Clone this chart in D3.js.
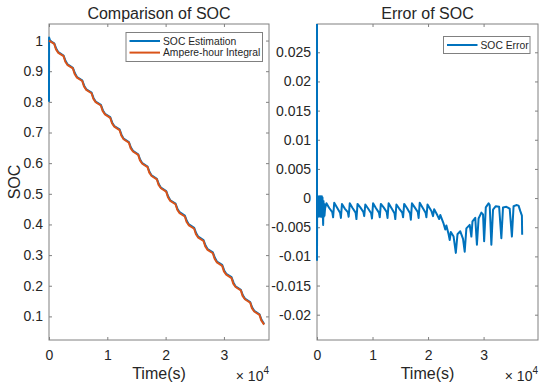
<!DOCTYPE html>
<html>
<head>
<meta charset="utf-8">
<script src="https://cdn.jsdelivr.net/npm/d3@7"></script>
<style>
  body { margin: 0; background: #fff; }
  text { font-family: Arial, "Liberation Sans", sans-serif; fill: #262626; }
</style>
</head>
<body>
<div id="chart"></div>
<script>
// ---- data (t in seconds) ----
var ahIntegral = [
  [0,1.000],[900,0.989],[1200,0.971],[1600,0.960],[2500,0.949],[2800,0.931],
  [3200,0.920],[4100,0.909],[4400,0.891],[4800,0.879],[5700,0.868],[6000,0.850],
  [6400,0.839],[7300,0.828],[7600,0.810],[8000,0.799],[8900,0.788],[9200,0.770],
  [9600,0.759],[10500,0.748],[10800,0.730],[11200,0.719],[12100,0.708],[12400,0.690],
  [12800,0.678],[13700,0.667],[14000,0.649],[14400,0.638],[15300,0.627],[15600,0.609],
  [16000,0.598],[16900,0.587],[17200,0.569],[17600,0.558],[18500,0.547],[18800,0.529],
  [19200,0.518],[20100,0.507],[20400,0.489],[20800,0.477],[21700,0.466],[22000,0.448],
  [22400,0.437],[23300,0.426],[23600,0.408],[24000,0.397],[24900,0.386],[25200,0.368],
  [25600,0.357],[26500,0.346],[26800,0.328],[27200,0.317],[28100,0.306],[28400,0.288],
  [28800,0.276],[29700,0.265],[30000,0.247],[30400,0.236],[31300,0.225],[31600,0.207],
  [32000,0.196],[32900,0.185],[33200,0.167],[33600,0.156],[34500,0.145],[34800,0.127],
  [35200,0.116],[36100,0.105],[36400,0.087],[36900,0.073]
];

var socEstimation = [
  [0,0.800],[15,1.010],[200,0.999],[900,0.991],[1250,0.973],[1600,0.962],[2500,0.951],[2850,0.933],
  [3200,0.922],[4100,0.911],[4450,0.893],[4800,0.881],[5700,0.870],[6050,0.852],
  [6400,0.841],[7300,0.830],[7650,0.812],[8000,0.801],[8900,0.790],[9250,0.772],
  [9600,0.761],[10500,0.750],[10850,0.732],[11200,0.721],[12100,0.710],[12450,0.692],
  [12800,0.680],[13700,0.669],[14050,0.651],[14400,0.640],[15300,0.629],[15650,0.611],
  [16000,0.600],[16900,0.589],[17250,0.571],[17600,0.560],[18500,0.549],[18850,0.531],
  [19200,0.520],[20100,0.509],[20450,0.491],[20800,0.479],[21700,0.468],[22050,0.450],
  [22400,0.440],[23300,0.429],[23650,0.411],[24000,0.400],[24900,0.389],[25250,0.371],
  [25600,0.360],[26500,0.349],[26850,0.331],[27200,0.320],[28100,0.309],[28450,0.291],
  [28800,0.279],[29700,0.268],[30050,0.250],[30400,0.239],[31300,0.228],[31650,0.210],
  [32000,0.198],[32900,0.187],[33250,0.169],[33600,0.158],[34500,0.147],[34850,0.129],
  [35200,0.118],[36100,0.107],[36450,0.089],[36900,0.075]
];

var socError = [
  [0,0.031],[0,-0.0106],[30,0.0003],[90,-0.0030],[150,0.0003],[210,-0.0032],[270,0.0002],
  [330,-0.0031],[390,0.0003],[450,-0.0030],[510,0.0002],[570,-0.0032],[630,0.0003],
  [690,-0.0031],[750,0.0002],[810,-0.0030],[870,0.0003],[930,-0.0033],[990,0.0001],
  [1050,-0.0030],[1110,-0.0046],[1170,-0.0005],[1230,-0.0032],[1290,-0.0010],[1350,-0.0030],
  [1450,-0.0018],
  [1700,-0.0009],[2200,-0.0017],[2750,-0.0024],[2900,-0.0033],
  [3100,-0.0008],[3600,-0.0016],[4150,-0.0025],[4300,-0.0034],
  [4500,-0.0010],[5000,-0.0018],[5550,-0.0024],[5700,-0.0032],
  [5900,-0.0009],[6400,-0.0017],[6950,-0.0025],[7100,-0.0036],
  [7300,-0.0010],[7800,-0.0016],[8350,-0.0024],[8500,-0.0031],
  [8700,-0.0011],[9200,-0.0018],[9750,-0.0026],[9900,-0.0035],
  [10100,-0.0009],[10600,-0.0017],[11150,-0.0025],[11300,-0.0033],
  [11500,-0.0010],[12000,-0.0016],[12550,-0.0024],[12700,-0.0034],
  [12900,-0.0009],[13400,-0.0017],[13950,-0.0026],[14100,-0.0036],
  [14300,-0.0011],[14800,-0.0018],[15350,-0.0025],[15500,-0.0033],
  [15700,-0.0010],[16200,-0.0017],[16750,-0.0026],[16900,-0.0037],
  [17100,-0.0009],[17600,-0.0016],[18150,-0.0024],[18300,-0.0034],
  [18500,-0.0008],[19000,-0.0016],[19550,-0.0025],[19700,-0.0033],
  [19900,-0.0011],[20600,-0.0022],[20900,-0.0031],[21100,-0.0019],[21700,-0.0030],
  [22000,-0.0036],[22200,-0.0029],[22800,-0.0044],[23100,-0.0054],[23300,-0.0047],
  [23700,-0.0062],[23900,-0.0072],[24100,-0.0058],[24600,-0.0066],[25000,-0.0094],
  [25300,-0.0062],[25800,-0.0057],[26300,-0.0070],[26600,-0.0092],[26900,-0.0052],
  [27500,-0.0046],[27800,-0.0066],[28000,-0.0040],[28500,-0.0034],[28800,-0.0080],
  [29100,-0.0035],[29600,-0.0025],[29900,-0.0028],[30100,-0.0074],[30400,-0.0016],
  [30900,-0.0009],[31100,-0.0012],[31400,-0.0080],[31700,-0.0020],[32200,-0.0014],
  [32800,-0.0015],[33200,-0.0069],[33500,-0.0016],[34100,-0.0015],[34700,-0.0018],
  [35100,-0.0066],[35400,-0.0014],[35900,-0.0012],[36300,-0.0013],[36600,-0.0022],
  [36900,-0.0030],[36950,-0.0063]
];

var xTicks = [0, 10000, 20000, 30000];
var socTicks = [0.1, 0.2, 0.3, 0.4, 0.5, 0.6, 0.7, 0.8, 0.9, 1];
var errTicks = [-0.02, -0.015, -0.01, -0.005, 0, 0.005, 0.01, 0.015, 0.02, 0.025];

var blue = "#0072BD", orange = "#D95319";

var svg = d3.select("#chart").append("svg")
  .attr("width", 550)
  .attr("height", 388);

// draws one boxed MATLAB-style panel
function panel(opt) {
  var w = opt.right - opt.left, h = opt.bottom - opt.top;
  var g = svg.append("g").attr("transform", `translate(${opt.left},${opt.top})`);

  var x = d3.scaleLinear().domain(opt.xDomain).range([0, w]);
  var y = d3.scaleLinear().domain(opt.yDomain).range([h, 0]);

  // axes, ticks inward on all four sides
  var tl = 3;
  var axStyle = function(sel) {
    sel.select(".domain").remove();
    sel.selectAll(".tick line").attr("stroke", "#808080");
    sel.selectAll(".tick text").style("font-size", "14px").attr("fill", "#262626");
  };
  g.append("g").attr("transform", `translate(0,${h})`)
    .call(d3.axisBottom(x).tickValues(xTicks).tickSizeInner(-tl).tickSizeOuter(0)
      .tickPadding(10).tickFormat(d => d / 10000))
    .call(axStyle);
  g.append("g")
    .call(d3.axisTop(x).tickValues(xTicks).tickSizeInner(-tl).tickSizeOuter(0).tickFormat(""))
    .call(axStyle);
  g.append("g")
    .call(d3.axisLeft(y).tickValues(opt.yTicks).tickSizeInner(-tl).tickSizeOuter(0)
      .tickPadding(6).tickFormat(opt.yFormat))
    .call(axStyle);
  g.append("g").attr("transform", `translate(${w},0)`)
    .call(d3.axisRight(y).tickValues(opt.yTicks).tickSizeInner(-tl).tickSizeOuter(0).tickFormat(""))
    .call(axStyle);

  g.append("rect")
    .attr("width", w).attr("height", h)
    .attr("fill", "none").attr("stroke", "#808080").attr("stroke-width", 1);

  // data lines go over the box, as in the reference
  g.append("clipPath").attr("id", opt.id)
    .append("rect").attr("x", -1.5).attr("width", w + 3).attr("height", h);

  var lines = g.append("g").attr("clip-path", `url(#${opt.id})`);
  var line = d3.line().x(d => x(d[0])).y(d => y(d[1]));
  opt.series.forEach(function(s) {
    lines.append("path")
      .datum(s.data)
      .attr("d", line)
      .attr("fill", "none")
      .attr("stroke", s.color)
      .attr("stroke-width", 2)
      .attr("stroke-linejoin", "round");
  });

  // title and labels
  g.append("text").attr("x", w / 2).attr("y", -5)
    .attr("text-anchor", "middle").style("font-size", "16px")
    .text(opt.title);
  g.append("text").attr("x", w / 2).attr("y", h + 39)
    .attr("text-anchor", "middle").style("font-size", "16px")
    .text("Time(s)");
  var ex = g.append("text").attr("x", w).attr("y", h + 41)
    .attr("text-anchor", "end").style("font-size", "14px");
  ex.append("tspan").text("\u00d7 10");
  ex.append("tspan").attr("dy", -7).style("font-size", "10px").text("4");

  // legend
  var lg = g.append("g").attr("transform", `translate(${opt.legend.x},${opt.legend.y})`);
  lg.append("rect")
    .attr("width", opt.legend.w).attr("height", 12 * opt.series.length + 5)
    .attr("fill", "#fff").attr("stroke", "#808080").attr("stroke-width", 1);
  opt.series.forEach(function(s, i) {
    var yy = 8.5 + i * 11.6;
    lg.append("line")
      .attr("x1", 3.5).attr("x2", 34).attr("y1", yy).attr("y2", yy)
      .attr("stroke", s.color).attr("stroke-width", 2);
    lg.append("text").attr("x", 37).attr("y", yy + 3.7)
      .style("font-size", "10.3px").text(s.name);
  });

  return g;
}

panel({
  id: "clipL", left: 49, right: 269, top: 24, bottom: 340,
  xDomain: [0, 37730], yDomain: [0.023, 1.054],
  yTicks: socTicks, yFormat: d => String(+d.toFixed(1)),
  title: "Comparison of SOC",
  series: [
    { name: "SOC Estimation", color: blue, data: socEstimation },
    { name: "Ampere-hour Integral", color: orange, data: ahIntegral }
  ],
  legend: { x: 77, y: 8.5, w: 136.5 }
});

panel({
  id: "clipR", left: 317, right: 538, top: 24, bottom: 340,
  xDomain: [0, 39800], yDomain: [-0.02434, 0.02985],
  yTicks: errTicks, yFormat: d => String(+d.toFixed(3)),
  title: "Error of SOC",
  series: [
    { name: "SOC Error", color: blue, data: socError }
  ],
  legend: { x: 126.5, y: 12.5, w: 86.5 }
});

// y label of the left panel
svg.append("text")
  .attr("transform", "translate(20,182) rotate(-90)")
  .attr("text-anchor", "middle").style("font-size", "16px")
  .text("SOC");
</script>
</body>
</html>
